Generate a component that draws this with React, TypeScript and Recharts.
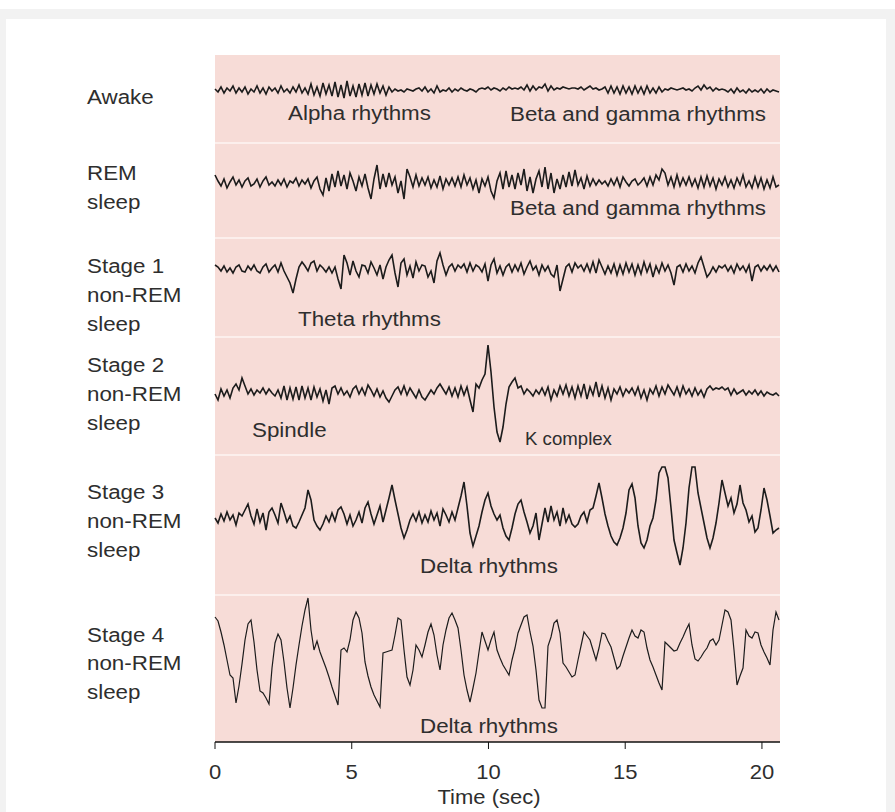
import React from "react";
import { LineChart, Line, XAxis, YAxis, CartesianGrid, ReferenceLine } from "recharts";

// Sampling interval of the EEG traces (seconds)
const SAMPLE_DT = 0.1097;
const TIME_DOMAIN: [number, number] = [0, 20.66];
const TIME_TICKS = [0, 5, 10, 15, 20];

// Trace amplitudes (arbitrary units, up positive)
const AWAKE = [1,-2,3,-3,2,-1,4,-3,2,-2,3,-4,1,-2,4,-3,2,-4,3,-1,2,-3,4,-2,1,-3,3,-2,5,-3,2,-4,6,-5,3,-6,7,-4,5,-6,8,-7,5,-8,9,-6,4,-7,6,-5,7,-6,5,-4,6,-3,4,-5,3,-2,1,-1,0,-2,1,0,-1,1,2,-1,3,-2,1,-3,4,-2,0,-1,2,-2,1,-1,2,0,-1,1,0,-2,1,2,1,3,0,2,1,-1,2,0,3,1,2,1,3,0,5,-1,4,0,3,2,6,-1,4,0,2,1,3,2,1,2,2,1,3,0,2,4,1,2,0,1,3,-3,4,-3,3,-4,4,-3,3,-4,4,-3,3,-4,4,-3,2,-3,3,-2,1,0,2,1,0,1,2,0,1,-1,2,4,0,5,1,3,-1,2,0,1,0,-2,1,-3,2,-2,0,-3,1,-2,0,-2,1,-3,1,-2,0,-1,-2];
const REM = [8,2,-3,4,-5,1,6,-2,3,-4,2,5,-3,-1,4,-4,2,6,-2,1,-3,3,-2,4,-4,2,0,5,-3,3,-1,4,-5,2,6,-6,-12,5,-8,9,-4,12,-3,8,-6,10,2,-8,6,-3,9,-5,-16,4,18,-6,9,-4,10,-2,6,-10,2,-16,14,6,-4,8,-3,5,-2,6,-5,3,-4,7,-6,4,-2,5,-3,6,-4,8,-2,5,-6,3,-10,4,-3,6,-8,-15,2,10,-6,12,-4,8,-6,10,-2,14,-8,6,-10,4,12,-4,16,-6,10,-10,4,-6,8,-4,11,-3,13,-2,5,-6,7,-3,4,-2,3,-1,2,-3,4,-2,5,-4,6,1,-3,2,4,-2,1,5,-3,6,-2,8,3,14,10,-2,6,-4,8,-3,5,-2,6,-3,4,-5,6,-4,7,-3,5,-6,4,-2,6,-4,3,-5,5,-2,8,-4,2,-5,6,-4,5,-6,3,-5,6,-4,-2];
const STAGE1 = [4,2,-2,3,-3,1,-4,2,4,-2,-3,3,-1,4,-2,-4,2,5,-3,1,4,-3,6,-2,-8,-14,-24,-10,2,7,3,-2,6,8,-2,4,1,-3,2,-4,2,-10,-20,14,6,-6,8,-2,-8,4,3,-4,7,1,-6,4,-10,2,9,14,-4,-18,6,10,-6,3,-9,7,-2,4,3,-8,-2,-14,8,16,4,-6,2,5,-2,4,1,5,-3,6,-2,4,2,-3,5,-12,4,10,-4,3,-6,2,5,-3,4,-2,6,-5,2,8,-1,3,-6,4,-2,3,-5,-8,4,-22,-10,2,5,-3,6,1,4,-2,5,-3,7,-4,9,2,-5,3,-4,5,-6,4,-5,6,-3,5,-6,4,-5,7,-3,5,-8,3,-4,6,-2,4,-4,-16,2,4,-3,5,-2,3,-4,6,12,2,-8,-4,2,-3,3,1,4,-2,3,-4,5,-1,3,-3,4,-12,2,4,-2,3,-1,4,-2,3,-3];
const STAGE2 = [-2,-8,3,-4,2,-6,4,8,2,14,6,-2,3,-3,2,-1,4,-2,3,-1,-4,2,-6,6,-8,4,-7,5,-8,6,-6,4,-8,5,-5,3,-9,2,-12,4,6,-2,4,-3,1,-5,3,6,-2,4,-3,7,2,-4,3,-5,1,-6,-10,-4,2,5,-2,6,-3,4,-1,-6,2,-5,-8,-3,2,-2,4,8,3,-2,5,-4,4,-5,6,-3,5,-8,-20,8,4,12,18,47,20,-15,-40,-50,-35,-12,5,10,14,4,6,-2,3,0,-4,2,-2,4,-3,5,-8,2,-4,6,-2,7,-4,5,-6,6,-4,8,-7,5,-3,10,-5,6,-6,4,-8,3,-2,5,-4,3,-1,4,-3,5,-6,2,-8,3,-2,6,-4,5,-2,7,2,-3,5,-4,6,-2,3,-4,4,-3,2,-5,3,6,2,4,3,5,2,4,-3,3,-2,0,2,-3,1,-2,2,-3,1,-4,0,-2,-3,-1,-4];
const STAGE3 = [0,-5,4,-3,6,-2,3,-7,5,2,8,14,2,-6,9,-4,5,-12,6,10,3,-5,15,6,-4,2,-8,-10,-4,3,10,28,18,-2,-8,-12,-6,2,-4,5,-3,8,11,4,-6,3,-8,-2,6,-5,10,16,4,-6,3,12,-4,8,20,33,18,4,-10,-20,-12,-2,4,-3,6,-5,3,-4,7,-2,5,-8,9,3,-4,6,-2,10,22,36,12,-15,-28,-18,-8,6,18,25,12,4,-2,3,-10,-18,-22,-10,4,14,18,6,-4,-15,-8,5,-22,-6,10,-4,12,-2,6,-8,10,-4,3,-6,-9,-6,2,6,-4,8,10,22,35,20,4,-8,-18,-24,-27,-20,-10,5,28,34,20,-8,-25,-30,-22,-8,0,18,45,51,51,40,10,-22,-35,-47,-30,-5,30,51,51,25,10,-5,-20,-30,-20,-5,15,38,25,12,20,5,14,33,15,8,-4,2,-14,-10,8,30,18,2,-15,-12,-10];
const STAGE4 = [43,39,28,15,0,-15,-18,-43,-26,-4,20,36,40,18,-10,-31,-33,-38,-44,-8,17,26,20,-2,-28,-48,-28,-5,15,34,50,62,30,10,19,8,0,-8,-17,-27,-36,-45,10,12,8,20,40,48,42,27,-2,-16,-27,-35,-41,-47,7,8,9,10,25,42,40,10,-17,-25,-10,15,10,3,15,28,36,25,5,-10,15,30,42,47,40,32,10,-15,-30,-42,-28,-13,8,28,19,10,20,28,10,2,-5,-10,-15,0,12,27,35,43,45,28,14,-10,-40,-48,-48,14,23,37,40,27,-3,-7,-12,-17,-15,0,14,28,24,20,10,0,12,27,26,19,13,2,-9,-6,4,13,22,30,24,22,30,28,12,0,-7,-15,-23,-30,18,15,12,9,10,17,23,30,36,15,1,-1,3,8,12,19,21,15,20,35,50,48,40,10,-25,-16,-8,30,24,22,28,27,15,8,2,-5,30,48,40];

const STAGE_LABELS: string[][] = [
  ["Awake"],
  ["REM", "sleep"],
  ["Stage 1", "non-REM", "sleep"],
  ["Stage 2", "non-REM", "sleep"],
  ["Stage 3", "non-REM", "sleep"],
  ["Stage 4", "non-REM", "sleep"],
];
const ANNOTATIONS = [
  "Alpha rhythms",
  "Beta and gamma rhythms",
  "Beta and gamma rhythms",
  "Theta rhythms",
  "Spindle",
  "K complex",
  "Delta rhythms",
  "Delta rhythms",
];
const X_TITLE = "Time (sec)";

// ---- layout (pixels / axis units) ----
const W = 895;
const H = 812;
const PLOT_TOP = 55;
const PLOT_BOTTOM = 742;
const PLOT_LEFT = 215;
const PLOT_RIGHT = 780;
const Y_MAX = PLOT_BOTTOM - PLOT_TOP; // y axis units == px
const toY = (py: number) => PLOT_BOTTOM - py;
const TRACE_KEYS = ["awake", "rem", "s1", "s2", "s3", "s4"];
const TRACE_BASE_PX = [90, 183, 269, 392, 518, 660];
const TRACES = [AWAKE, REM, STAGE1, STAGE2, STAGE3, STAGE4];
const SEPARATORS_PX = [143, 238, 337, 455, 595];

const rows = AWAKE.map((_, i) => {
  const r: Record<string, number> = { t: i * SAMPLE_DT };
  TRACES.forEach((arr, k) => {
    r[TRACE_KEYS[k]] = toY(TRACE_BASE_PX[k]) + arr[i];
  });
  return r;
});

const FONT = "'Liberation Sans', Arial, Helvetica, sans-serif";
const TXT = "#2e2e2e";
const SX = 1.065;

const labelLines: { text: string; y: number }[] = [];
const LABEL_Y = [[104], [180, 209], [273, 302, 331], [372, 401, 430], [499, 528, 557], [642, 670, 699]];
STAGE_LABELS.forEach((lines, i) => lines.forEach((t, j) => labelLines.push({ text: t, y: LABEL_Y[i][j] })));

const ANN_POS = [
  { x: 288, y: 120, s: 21 },
  { x: 510, y: 121, s: 21 },
  { x: 510, y: 215, s: 21 },
  { x: 298, y: 326, s: 21 },
  { x: 252, y: 437, s: 21 },
  { x: 525, y: 445, s: 17.5 },
  { x: 420, y: 573, s: 21 },
  { x: 420, y: 733, s: 21 },
];

const Tick = (props: any) => {
  const { x, y, payload } = props;
  return (
    <text
      transform={`translate(${x},${y + 28}) scale(1.1,1)`}
      textAnchor="middle"
      fontFamily={FONT}
      fontSize={20}
      fill={TXT}
    >
      {payload.value}
    </text>
  );
};

export default function App() {
  return (
    <div style={{ position: "absolute", left: 0, top: 0, width: W, height: H, background: "#fff", overflow: "hidden" }}>
      <div style={{ position: "absolute", left: 0, top: 9, width: W, height: H - 9, background: "#f2f2f2" }} />
      <div style={{ position: "absolute", left: 6, top: 19, width: 880, height: H - 19, background: "#fff" }} />
      <div style={{ position: "absolute", left: 0, top: 0 }}>
        <LineChart width={W} height={H} data={rows} margin={{ top: PLOT_TOP, right: W - PLOT_RIGHT, left: PLOT_LEFT, bottom: 0 }}>
          <CartesianGrid xAxisId="b" yAxisId="l" horizontal={false} vertical={false} fill="#f7dcd7" />
          <XAxis
            xAxisId="b"
            dataKey="t"
            type="number"
            domain={TIME_DOMAIN}
            ticks={TIME_TICKS}
            height={H - PLOT_BOTTOM}
            tickSize={7}
            tickLine={{ stroke: "#111" }}
            axisLine={{ stroke: "#111", strokeWidth: 1.5 }}
            tick={<Tick />}
            interval={0}
          />
          <XAxis xAxisId="t" orientation="top" type="number" domain={TIME_DOMAIN} height={0} tick={false} tickLine={false} axisLine={{ stroke: "#7a7a7a", strokeWidth: 2 }} />
          <YAxis yAxisId="l" type="number" domain={[0, Y_MAX]} width={0} tick={false} tickLine={false} axisLine={{ stroke: "#555", strokeWidth: 1.5 }} />
          <YAxis yAxisId="r" orientation="right" type="number" domain={[0, Y_MAX]} width={0} tick={false} tickLine={false} axisLine={{ stroke: "#8a8a8a", strokeWidth: 1.5 }} />
          {SEPARATORS_PX.map((p) => (
            <ReferenceLine key={p} xAxisId="b" yAxisId="l" y={toY(p)} stroke="#fcefec" strokeWidth={2} />
          ))}
          {TRACE_KEYS.map((k, i) => (
            <Line
              key={k}
              xAxisId="b"
              yAxisId="l"
              dataKey={k}
              type="linear"
              dot={false}
              stroke="#1c1c1c"
              strokeWidth={i === 5 ? 1.2 : 1.6}
              isAnimationActive={false}
            />
          ))}
        </LineChart>
      </div>
      <svg width={W} height={H} style={{ position: "absolute", left: 0, top: 0, pointerEvents: "none" }}>
        {labelLines.map((l, i) => (
          <text key={i} transform={`translate(87,${l.y}) scale(${SX},1)`} fontFamily={FONT} fontSize={21} fill={TXT}>
            {l.text}
          </text>
        ))}
        {ANNOTATIONS.map((t, i) => (
          <text key={i} transform={`translate(${ANN_POS[i].x},${ANN_POS[i].y}) scale(${SX},1)`} fontFamily={FONT} fontSize={ANN_POS[i].s} fill={TXT}>
            {t}
          </text>
        ))}
        <text transform={`translate(489,804) scale(1.1,1)`} textAnchor="middle" fontFamily={FONT} fontSize={20} fill={TXT}>
          {X_TITLE}
        </text>
      </svg>
    </div>
  );
}
